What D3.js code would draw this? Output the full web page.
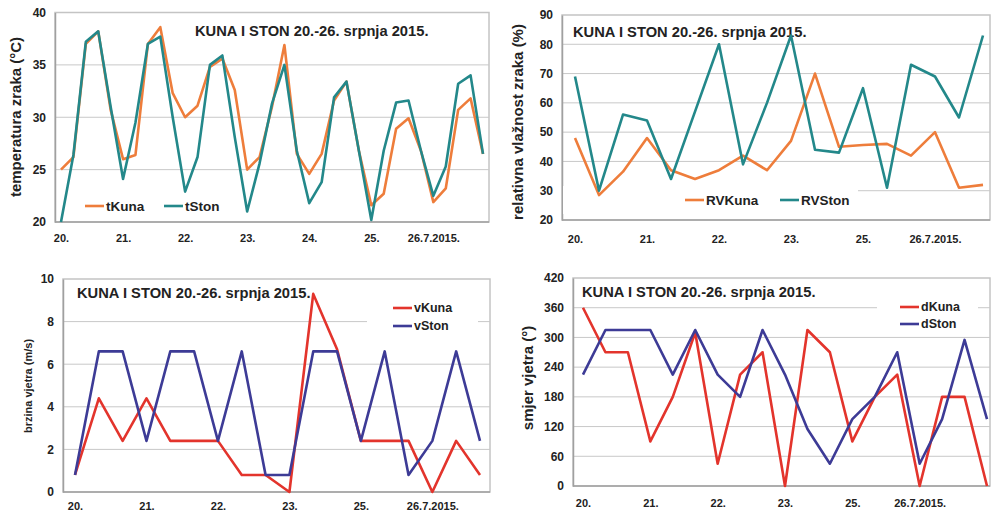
<!DOCTYPE html>
<html>
<head>
<meta charset="utf-8">
<script src="https://cdn.jsdelivr.net/npm/d3@7"></script>
<style>
body { margin: 0; background: #fff; }
svg { display: block; }
text { font-family: "Liberation Sans", Arial, sans-serif; font-weight: bold; fill: #222; }
</style>
</head>
<body>
<svg id="chart" width="997" height="514"></svg>
<script>
var title = "KUNA I STON 20.-26. srpnja 2015.";

// temperatura - 5 mjerenja po danu
var tempLabels = ["20.", "21.", "22.", "23.", "24.", "25.", "26.7.2015."];
var tempTicks = [20, 25, 30, 35, 40];
var tKuna = [25.0, 26.2, 37.0, 38.2, 30.7, 26.0, 26.4, 37.0, 38.6, 32.3, 30.0, 31.1, 34.8, 35.6, 32.6, 25.0, 26.2, 31.0,
    36.9, 26.5, 24.6, 26.5, 31.6, 33.4, 26.8, 21.6, 22.7, 28.9, 29.9, 26.8, 21.9, 23.2, 30.7, 31.8, 26.5];
var tSton = [20.0, 26.4, 37.2, 38.2, 31.0, 24.1, 29.5, 37.0, 37.7, 30.0, 22.9, 26.2, 35.0, 35.9, 28.1, 21.0, 25.6, 31.3,
    35.0, 26.8, 21.8, 23.8, 31.9, 33.4, 26.8, 20.2, 26.8, 31.4, 31.6, 26.8, 22.5, 25.3, 33.2, 34.0, 26.5];

// relativna vlaznost, vjetar - 3 mjerenja po danu
var dayLabels = ["20.", "21.", "22.", "23.", "25.", "26.7.2015."];
var rvTicks = [20, 30, 40, 50, 60, 70, 80, 90];
var rvKuna = [48, 28.5, 36.5, 48, 37, 34, 37, 42, 37, 47, 70, 45, 45.6, 46, 42, 50, 31, 32];
var rvSton = [69, 30, 56, 54, 34, 57, 80, 39, 60, 83, 44, 43, 65, 31, 73, 69, 55, 83];

var vTicks = [0, 2, 4, 6, 8, 10];
var vKuna = [0.8, 4.4, 2.4, 4.4, 2.4, 2.4, 2.4, 0.8, 0.8, 0, 9.3, 6.7, 2.4, 2.4, 2.4, 0, 2.4, 0.8];
var vSton = [0.8, 6.6, 6.6, 2.4, 6.6, 6.6, 2.4, 6.6, 0.8, 0.8, 6.6, 6.6, 2.4, 6.6, 0.8, 2.4, 6.6, 2.4];

var dTicks = [0, 60, 120, 180, 240, 300, 360, 420];
var dKuna = [360, 270, 270, 90, 180, 310, 45, 225, 270, 0, 315, 270, 90, 180, 225, 0, 180, 180, 0];
var dSton = [225, 315, 315, 315, 225, 315, 225, 180, 315, 225, 115, 45, 135, 180, 270, 45, 135, 295, 135];

var orange = "#ee7d3b", teal = "#23888a", red = "#e3342c", navy = "#3d3b96";

var svg = d3.select("#chart");

var panels = [
    {
        box: [55, 12.5, 489, 222], px: [61, 483], yDomain: [20, 40], yTicks: tempTicks,
        labels: tempLabels, every: 5, labelY: 242,
        yTitle: "temperatura zraka (°C)", yTitleX: 16, yTitleY: 117, yTitleSize: 15,
        titleX: 195, titleY: 36,
        series: [{ name: "tKuna", values: tKuna, color: orange }, { name: "tSton", values: tSton, color: teal }],
        legendBox: null, legendSize: 13.5,
        legend: [[85, 206], [164, 206]]
    },
    {
        box: [562, 15, 990, 220], px: [575, 983], yDomain: [20, 90], yTicks: rvTicks,
        labels: dayLabels, every: 3, labelY: 243,
        yTitle: "relativna vlažnost zraka (%)", yTitleX: 518, yTitleY: 122, yTitleSize: 15,
        titleX: 573, titleY: 37,
        series: [{ name: "RVKuna", values: rvKuna, color: orange }, { name: "RVSton", values: rvSton, color: teal }],
        legendBox: [563, 186, 858, 214], legendSize: 13.5,
        legend: [[685, 200], [780, 200]]
    },
    {
        box: [63, 279, 490, 492], px: [75, 480], yDomain: [0, 10], yTicks: vTicks,
        labels: dayLabels, every: 3, labelY: 510,
        yTitle: "brzina vjetra (m/s)", yTitleX: 28, yTitleY: 386, yTitleSize: 11,
        titleX: 77, titleY: 298,
        series: [{ name: "vKuna", values: vKuna, color: red }, { name: "vSton", values: vSton, color: navy }],
        legendBox: [367, 297, 478, 337], legendSize: 12.5,
        legend: [[393, 308], [393, 326]]
    },
    {
        box: [573, 278, 990, 486], px: [583, 987], yDomain: [0, 420], yTicks: dTicks,
        labels: dayLabels, every: 3, labelY: 507,
        yTitle: "smjer vjetra (°)", yTitleX: 528, yTitleY: 378, yTitleSize: 15,
        titleX: 582, titleY: 297,
        series: [{ name: "dKuna", values: dKuna, color: red }, { name: "dSton", values: dSton, color: navy }],
        legendBox: [877, 297, 978, 335], legendSize: 12.5,
        legend: [[900, 307], [900, 324]]
    }
];

panels.forEach(function(p) { drawPanel(p); });

function drawPanel(p) {
    var n = p.series[0].values.length;
    var x = d3.scaleLinear().domain([0, n - 1]).range(p.px);
    var y = d3.scaleLinear().domain(p.yDomain).range([p.box[3], p.box[1]]);
    var g = svg.append("g");

    // plot area
    g.append("rect")
        .attr("x", p.box[0]).attr("y", p.box[1])
        .attr("width", p.box[2] - p.box[0]).attr("height", p.box[3] - p.box[1])
        .attr("fill", "#fff").attr("stroke", "#c4c4c4").attr("stroke-width", 1.5);

    // grid
    g.selectAll(".grid").data(p.yTicks.slice(1, -1)).enter().append("line")
        .attr("x1", p.box[0]).attr("x2", p.box[2])
        .attr("y1", function(d) { return y(d); }).attr("y2", function(d) { return y(d); })
        .attr("stroke", "#c8c8c8").attr("stroke-width", 1);

    // y axis
    var yAxis = g.append("g")
        .attr("transform", "translate(" + p.box[0] + ",0)")
        .call(d3.axisLeft(y).tickValues(p.yTicks).tickSize(0).tickPadding(9));
    yAxis.select(".domain").attr("stroke", "#a0a0a0").attr("stroke-width", 1.5);
    yAxis.selectAll("text").style("font-size", "12px").attr("fill", "#222");

    // x axis, label each day
    var idx = p.labels.map(function(d, i) { return i * p.every; });
    var xAxis = g.append("g")
        .attr("transform", "translate(0," + p.box[3] + ")")
        .call(d3.axisBottom(x).tickValues(idx).tickFormat(function(d, i) { return p.labels[i]; })
            .tickSize(0).tickPadding(p.labelY - p.box[3] - 8));
    xAxis.select(".domain").attr("d", "M" + p.box[0] + ",0H" + p.box[2])
        .attr("stroke", "#a0a0a0").attr("stroke-width", 1.5);
    xAxis.selectAll("text").style("font-size", "11px").attr("fill", "#222");

    // axis title
    g.append("text")
        .attr("transform", "translate(" + p.yTitleX + "," + p.yTitleY + ") rotate(-90)")
        .attr("text-anchor", "middle")
        .attr("dy", "0.35em")
        .style("font-size", p.yTitleSize + "px")
        .text(p.yTitle);

    // title
    g.append("text")
        .attr("x", p.titleX).attr("y", p.titleY)
        .style("font-size", "14.7px")
        .text(title);

    if (p.legendBox) {
        g.append("rect")
            .attr("x", p.legendBox[0]).attr("y", p.legendBox[1])
            .attr("width", p.legendBox[2] - p.legendBox[0]).attr("height", p.legendBox[3] - p.legendBox[1])
            .attr("fill", "#fff");
    }

    var line = d3.line()
        .x(function(d, i) { return x(i); })
        .y(function(d) { return y(d); });

    p.series.forEach(function(s, k) {
        g.append("path")
            .datum(s.values)
            .attr("fill", "none")
            .attr("stroke", s.color)
            .attr("stroke-width", 2.6)
            .attr("stroke-linejoin", "round")
            .attr("d", line);

        var lx = p.legend[k][0], ly = p.legend[k][1];
        g.append("line")
            .attr("x1", lx).attr("x2", lx + 19)
            .attr("y1", ly).attr("y2", ly)
            .attr("stroke", s.color).attr("stroke-width", 2.6);
        g.append("text")
            .attr("x", lx + 21).attr("y", ly)
            .attr("dy", "0.35em")
            .style("font-size", p.legendSize + "px")
            .text(s.name);
    });
}
</script>
</body>
</html>
